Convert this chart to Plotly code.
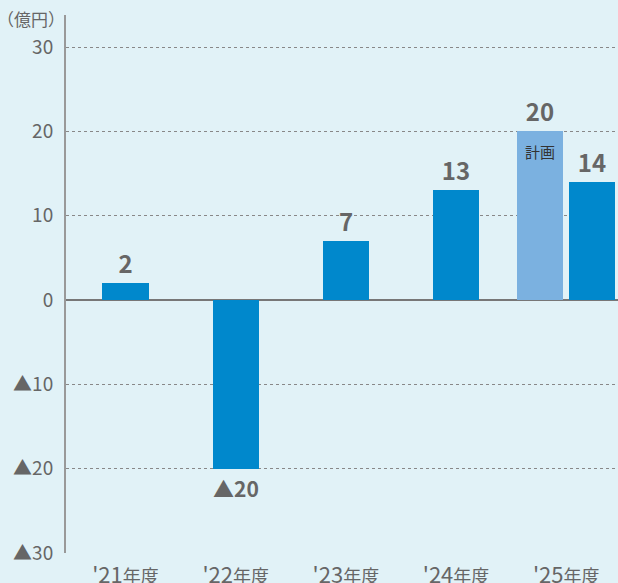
import plotly.graph_objects as go

categories = ["'21", "'22", "'23", "'24", "'25"]
actual = [2, -20, 7, 13, 14]
plan_category = "'25"
plan_value = 20
y_ticks = [-30, -20, -10, 0, 10, 20, 30]
y_tick_labels = ["▲30", "▲20", "▲10", "0", "10", "20", "30"]
unit_label = "（億円）"
plan_label = "計画"

def fmt(v):
    return ("▲" + str(abs(v))) if v < 0 else str(v)

FONT = "Noto Sans CJK JP, Noto Sans, sans-serif"
GREY = "#666666"
BAR = "#0088CC"
PLAN = "#7BB1E0"
BG = "#E1F2F7"

tick_text = [c + "<span style='font-size:18px'>年度</span>" for c in categories]
label_font = dict(size=24, color=GREY, family=FONT, weight="bold")

fig = go.Figure()

single = categories[:-1]
fig.add_trace(go.Bar(
    x=single, y=actual[:-1], width=0.418,
    marker=dict(color=BAR, line=dict(width=0)),
    text=[fmt(v) for v in actual[:-1]], textposition="outside",
    textfont=label_font, cliponaxis=False,
))
fig.add_trace(go.Bar(
    x=[plan_category], y=[plan_value], width=0.418, offset=-0.445,
    marker=dict(color=PLAN, line=dict(width=0)),
    text=[fmt(plan_value)], textposition="outside",
    textfont=label_font, cliponaxis=False,
))
fig.add_trace(go.Bar(
    x=[categories[-1]], y=[actual[-1]], width=0.418, offset=0.027,
    marker=dict(color=BAR, line=dict(width=0)),
    text=[fmt(actual[-1])], textposition="outside",
    textfont=label_font, cliponaxis=False,
))

fig.add_annotation(x=plan_category, y=plan_value, xref="x", yref="y",
                   text=plan_label, showarrow=False, xshift=-26, yshift=-8,
                   yanchor="top", font=dict(size=15, color="#333333", family=FONT))
fig.add_annotation(x=0, y=1, xref="paper", yref="paper", xanchor="right", yanchor="top",
                   xshift=1, yshift=11,
                   text=unit_label, showarrow=False, font=dict(size=17, color=GREY, family=FONT))

fig.update_layout(
    width=618, height=583,
    margin=dict(l=66, r=0, t=15, b=30),
    paper_bgcolor=BG, plot_bgcolor=BG,
    showlegend=False, barmode="overlay",
    font=dict(family=FONT, color=GREY),
    bargap=0,
)
fig.update_xaxes(
    type="category", categoryorder="array", categoryarray=categories,
    tickvals=categories, ticktext=tick_text,
    tickfont=dict(size=22, color=GREY, family=FONT),
    showgrid=False, showline=False, ticks="", automargin=False,
    range=[-0.54, 4.47], ticklabelstandoff=7,
)
fig.update_yaxes(
    range=[-30, 33.8], tickvals=y_ticks, ticktext=y_tick_labels,
    tickfont=dict(size=19, color=GREY, family=FONT),
    showgrid=True, gridcolor="#888888", griddash="dot", gridwidth=1,
    zeroline=True, zerolinecolor="#777777", zerolinewidth=1.5,
    showline=True, linecolor="#999999", linewidth=2,
    ticks="", automargin=False, ticklabelstandoff=7,
)

fig.write_html("out.html", config={"displayModeBar": False},
               post_script="document.body.style.margin='0';document.body.style.overflow='hidden';")
